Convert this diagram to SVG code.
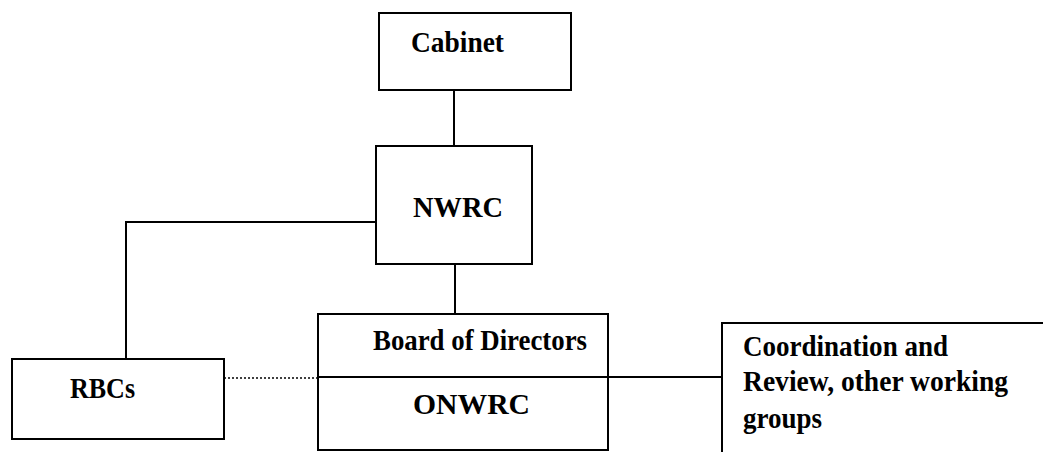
<svg xmlns="http://www.w3.org/2000/svg" width="1043" height="452" viewBox="0 0 1043 452">
<style>
.box{fill:#fff;stroke:#000;stroke-width:2}
.ln{fill:none;stroke:#000;stroke-width:2}
.dot{fill:none;stroke:#000;stroke-width:1.5;stroke-dasharray:2 2}
text{font-family:"Liberation Serif","DejaVu Serif",serif;font-weight:bold;font-size:29px;fill:#000}
</style>
<rect width="1043" height="452" fill="#fff"/>
<g id="connectors">
<line class="ln" x1="454" y1="90" x2="454" y2="146"/>
<line class="ln" x1="455" y1="264" x2="455" y2="314"/>
<polyline class="ln" points="376,222 126,222 126,359"/>
<line class="dot" x1="224" y1="378" x2="318" y2="378"/>
<line class="ln" x1="608" y1="377" x2="722" y2="377"/>
</g>
<g id="cabinet">
<rect class="box" x="379" y="13" width="192" height="77"/>
<text x="411" y="52" textLength="93" lengthAdjust="spacingAndGlyphs">Cabinet</text>
</g>
<g id="nwrc">
<rect class="box" x="376" y="146" width="156" height="118"/>
<text x="413" y="217" textLength="90" lengthAdjust="spacingAndGlyphs">NWRC</text>
</g>
<g id="onwrc">
<rect class="box" x="318" y="314" width="290" height="136"/>
<line class="ln" x1="318" y1="377" x2="608" y2="377"/>
<text x="373" y="350" textLength="214" lengthAdjust="spacingAndGlyphs">Board of Directors</text>
<text x="413" y="414" textLength="117" lengthAdjust="spacingAndGlyphs">ONWRC</text>
</g>
<g id="rbcs">
<rect class="box" x="12" y="359" width="212" height="80"/>
<text x="70" y="398" textLength="65" lengthAdjust="spacingAndGlyphs">RBCs</text>
</g>
<g id="coordination">
<path class="ln" d="M722,452 V323 H1043"/>
<text x="743" y="356" textLength="205" lengthAdjust="spacingAndGlyphs">Coordination and</text>
<text x="743" y="391" textLength="265" lengthAdjust="spacingAndGlyphs">Review, other working</text>
<text x="743" y="428" textLength="79" lengthAdjust="spacingAndGlyphs">groups</text>
</g>
</svg>
